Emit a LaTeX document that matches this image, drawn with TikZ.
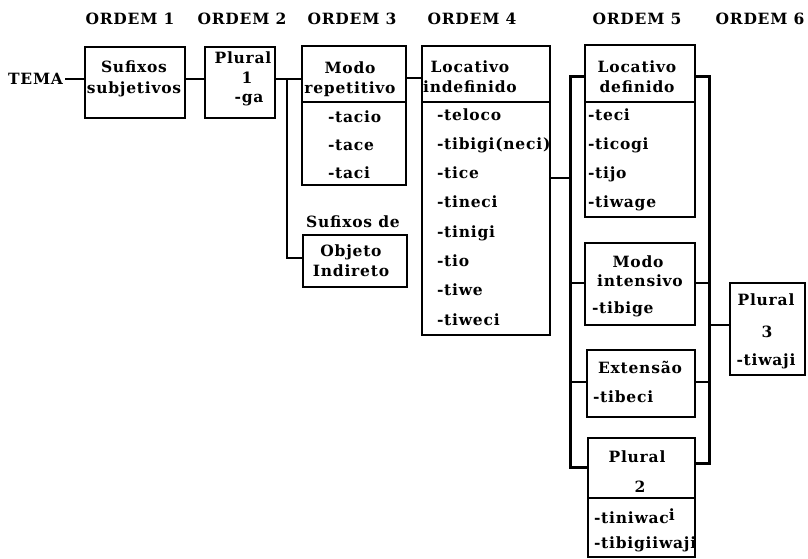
\documentclass[tikz,border=0pt]{standalone}
\usepackage{fontspec}
\setmainfont{DejaVu Serif}[LetterSpace=5]
\begin{document}
\begin{tikzpicture}[x=1pt,y=-1pt,
  txt/.style={inner sep=0pt,outer sep=0pt,anchor=base,font=\fontsize{15.5}{18}\selectfont\bfseries},
  ltxt/.style={txt,anchor=base west},
  box/.style={draw,line width=1.2pt,inner sep=0pt,outer sep=0pt},
  divl/.style={line width=1.2pt},
  conn/.style={line width=2.4pt},
  bus/.style={line width=3pt,line join=miter}]
\useasboundingbox (0,0) rectangle (808,558);
% headings
\node[txt] (o1) at (130,24) {ORDEM 1};
\node[txt] (o2) at (242,24) {ORDEM 2};
\node[txt] (o3) at (352,24) {ORDEM 3};
\node[txt] (o4) at (472,24) {ORDEM 4};
\node[txt] (o5) at (637,24) {ORDEM 5};
\node[txt] (o6) at (760,24) {ORDEM 6};
% boxes
\node[box,minimum width=100pt,minimum height=71pt] (suf) at (135,82.5) {};
\node[box,minimum width=70pt,minimum height=71pt] (pl1) at (240,82.5) {};
\node[box,minimum width=104pt,minimum height=139pt] (modo) at (354,115.5) {};
\node[box,minimum width=104pt,minimum height=52pt] (obj) at (355,261) {};
\node[box,minimum width=128pt,minimum height=289pt] (locind) at (486,190.5) {};
\node[box,minimum width=110pt,minimum height=172pt] (locdef) at (640,131) {};
\node[box,minimum width=110pt,minimum height=82pt] (modoint) at (640,284) {};
\node[box,minimum width=108pt,minimum height=67pt] (ext) at (641,383.5) {};
\node[box,minimum width=107pt,minimum height=119pt] (pl2) at (641.5,497.5) {};
\node[box,minimum width=75pt,minimum height=92pt] (pl3) at (767.5,329) {};
% dividers
\draw[divl] (modo.west |- 0,102) -- (modo.east |- 0,102);
\draw[divl] (locind.west |- 0,102) -- (locind.east |- 0,102);
\draw[divl] (locdef.west |- 0,102) -- (locdef.east |- 0,102);
\draw[divl] (pl2.west |- 0,498) -- (pl2.east |- 0,498);
% texts
\node[txt,anchor=base east] (tema) at (63,84) {TEMA};
\node[txt] (suf1) at (134,72) {Sufixos};
\node[txt] (suf2) at (134,93) {subjetivos};
\node[txt] (pl1a) at (243,63) {Plural};
\node[txt] (pl1b) at (247,83) {1};
\node[txt] (pl1c) at (249,102) {-ga};
\node[txt] (mo1) at (350,73) {Modo};
\node[txt] (mo2) at (350,93) {repetitivo};
\node[ltxt] (mo3) at (328,122) {-tacio};
\node[ltxt] (mo4) at (328,150) {-tace};
\node[ltxt] (mo5) at (328,178) {-taci};
\node[txt] (sd) at (353,227) {Sufixos de};
\node[txt] (ob1) at (351,256) {Objeto};
\node[txt] (ob2) at (351,276) {Indireto};
\node[txt] (li1) at (470,72) {Locativo};
\node[txt] (li2) at (470,92) {indefinido};
\node[ltxt] (li3) at (437,120) {-teloco};
\node[ltxt] (li4) at (437,149.3) {-tibigi(neci)};
\node[ltxt] (li5) at (437,178.6) {-tice};
\node[ltxt] (li6) at (437,207.9) {-tineci};
\node[ltxt] (li7) at (437,237.2) {-tinigi};
\node[ltxt] (li8) at (437,266.5) {-tio};
\node[ltxt] (li9) at (437,295.8) {-tiwe};
\node[ltxt] (li10) at (437,325) {-tiweci};
\node[txt] (ld1) at (637,72) {Locativo};
\node[txt] (ld2) at (637,92) {definido};
\node[ltxt] (ld3) at (588,120) {-teci};
\node[ltxt] (ld4) at (588,149) {-ticogi};
\node[ltxt] (ld5) at (588,178) {-tijo};
\node[ltxt] (ld6) at (588,207) {-tiwage};
\node[txt] (mi1) at (638,267) {Modo};
\node[txt] (mi2) at (640,286) {intensivo};
\node[ltxt] (mi3) at (592,313) {-tibige};
\node[txt] (ex1) at (640,373) {Extensão};
\node[ltxt] (ex2) at (593,402) {-tibeci};
\node[txt] (p2a) at (637,462) {Plural};
\node[txt] (p2b) at (640,492) {2};
\node[ltxt] (p2c) at (594,523) {-tiniwac\raisebox{3pt}{i}};
\node[ltxt] (p2d) at (594,548) {-tibigiiwaji};
\node[txt] (p3a) at (766,305) {Plural};
\node[txt] (p3b) at (767,337) {3};
\node[txt] (p3c) at (766,365) {-tiwaji};
% junction coordinates
\coordinate (j1) at (287,79);
\coordinate (j1b) at (287,258);
\coordinate (bl1) at (570,76);
\coordinate (bl2) at (570,467);
\coordinate (br1) at (709,76);
\coordinate (br2) at (709,463);
% connectors
\draw[conn] (tema.east |- 0,79) ++(2,0) -- (suf.west |- 0,79);
\draw[conn] (suf.east |- 0,79) -- (pl1.west |- 0,79);
\draw[conn] (pl1.east |- j1) -- (j1) -- (modo.west |- j1);
\draw[conn,line join=miter] (j1) -- (j1b) -- (obj.west |- j1b);
\draw[conn] (modo.east |- 0,78) -- (locind.west |- 0,78);
\draw[conn] (locind.east |- 0,178) -- (bl1 |- 0,178);
\draw[bus] (locdef.west |- bl1) -- (bl1) -- (bl2) -- (pl2.west |- bl2);
\draw[conn] (bl1 |- 0,283) -- (modoint.west |- 0,283);
\draw[conn] (bl1 |- 0,382) -- (ext.west |- 0,382);
\draw[bus] (locdef.east |- br1) -- (br1) -- (br2) -- (pl2.east |- br2);
\draw[conn] (br1 |- 0,283) -- (modoint.east |- 0,283);
\draw[conn] (br1 |- 0,382) -- (ext.east |- 0,382);
\draw[conn] (br1 |- 0,325) -- (pl3.west |- 0,325);
\end{tikzpicture}
\end{document}
